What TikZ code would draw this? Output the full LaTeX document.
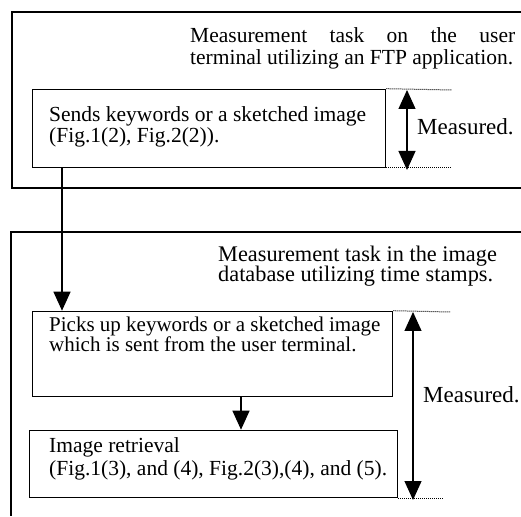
\documentclass[tikz,border=0pt]{standalone}
\usepackage{fontspec}
\setmainfont{Liberation Serif}
\usetikzlibrary{arrows.meta}
\begin{document}
\begin{tikzpicture}[x=1pt,y=1pt,
  outer/.style={line width=1.8pt},
  inbox/.style={draw,line width=1.3pt,inner sep=0pt},
  txt/.style={font=\fontsize{21.5}{21}\selectfont,inner sep=0pt,align=left,anchor=base west},
  meas/.style={font=\fontsize{23}{24}\selectfont,inner sep=0pt,anchor=base west},
  arr/.style={line width=1.2pt,-{Triangle[length=19pt,width=17pt]}},
  darr/.style={line width=1.2pt,{Triangle[length=19pt,width=17pt]}-{Triangle[length=19pt,width=17pt]}},
  dot/.style={densely dotted,line width=1pt}]
\useasboundingbox (0,0) rectangle (521,516);
% top outer frame
\draw[outer] (521,504) -- (12,504) -- (12,328) -- (521,328);
\node[txt,font=\fontsize{21.5}{22.5}\selectfont] (top) at (190,451)
 {\hbox to 325pt{Measurement\hfill task\hfill on\hfill the\hfill user}\\terminal utilizing an FTP application.};
% box 1
\node[inbox,minimum width=353pt,minimum height=78pt,anchor=south west] (b1) at (32,348) {};
\node[txt] (b1t) at (49,373) {Sends keywords or a sketched image\\(Fig.1(2), Fig.2(2)).};
\coordinate (d1a) at (452,426);
\coordinate (d1b) at (452,348);
\draw[dot] (b1.north east) -- (d1a);
\draw[dot] (b1.south east) -- (d1b);
\coordinate (m1a) at (407,426);
\coordinate (m1b) at (407,346);
\draw[darr] (m1a) -- (m1b);
\node[meas] (m1) at (417,381) {Measured.};
% bottom outer frame
\draw[outer] (521,284) -- (11,284) -- (11,0);
\node[txt,font=\fontsize{22.3}{20.5}\selectfont] (bot) at (218,234)
 {Measurement task in the image\\database utilizing time stamps.};
% box 2
\node[inbox,minimum width=360pt,minimum height=85pt,anchor=south west] (b2) at (32,119) {};
\node[txt,font=\fontsize{21}{20.5}\selectfont] (b2t) at (49,164) {Picks up keywords or a sketched image\\which is sent from the user terminal.};
% box 3
\node[inbox,minimum width=368pt,minimum height=67pt,anchor=south west] (b3) at (29,18) {};
\node[txt,font=\fontsize{21.5}{23}\selectfont] (b3t) at (49,41) {Image retrieval\\(Fig.1(3), and (4), Fig.2(3),(4), and (5).};
% arrows
\draw[arr] (b1.south west -| 62,0) -- (b2.north west -| 62,0);
\draw[arr] (b2.south west -| 241,0) -- (b3.north west -| 241,0);
% measured 2
\coordinate (d2a) at (450,204);
\coordinate (d2b) at (443,18);
\draw[dot] (b2.north east) -- (d2a);
\draw[dot] (b3.south east) -- (d2b);
\coordinate (m2a) at (413,204);
\coordinate (m2b) at (413,16);
\draw[darr] (m2a) -- (m2b);
\node[meas] (m2) at (423,113) {Measured.};
\end{tikzpicture}
\end{document}
